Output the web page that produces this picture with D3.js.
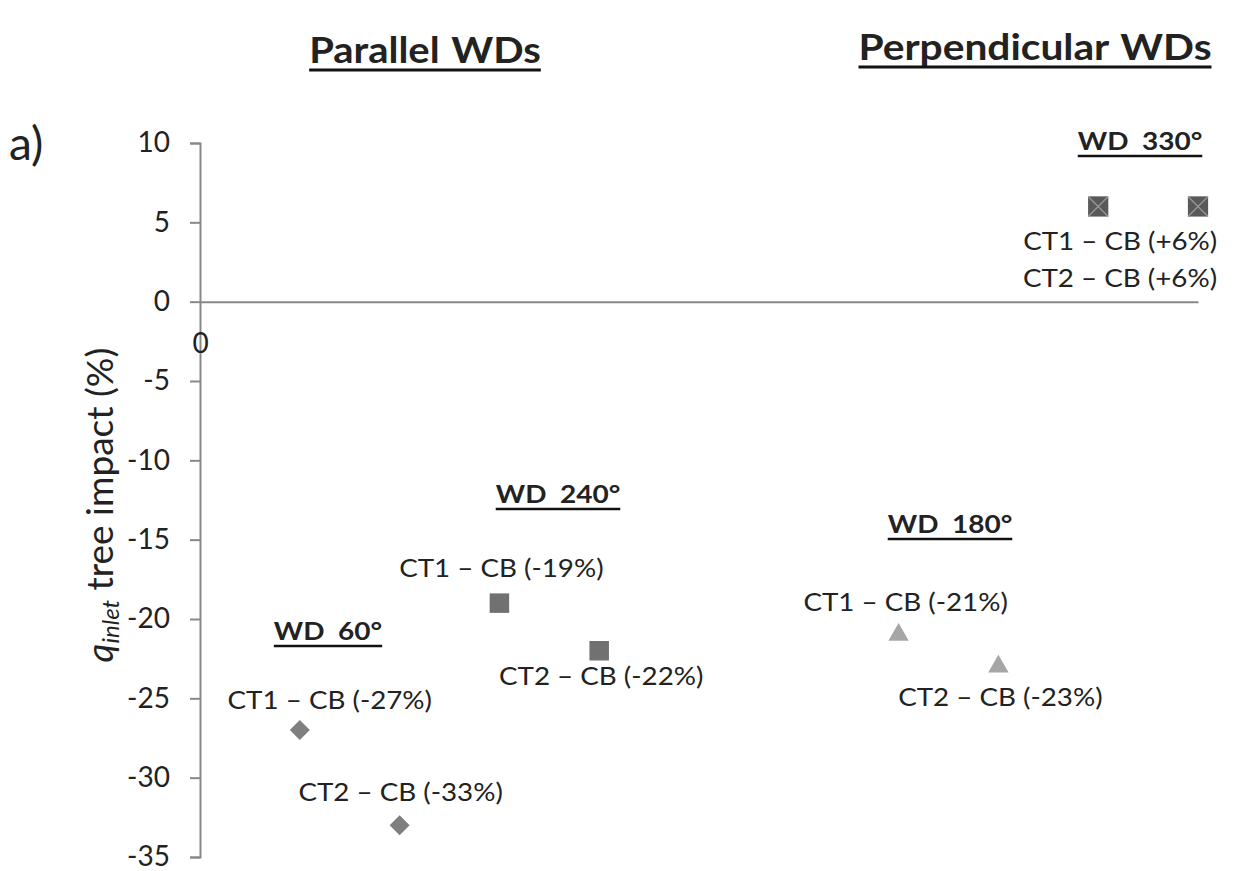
<!DOCTYPE html>
<html>
<head>
<meta charset="utf-8">
<script src="https://cdn.jsdelivr.net/npm/d3@7"></script>
<style>
  body { margin: 0; background: #fff; }
  text { font-family: Lato, "Open Sans", sans-serif; fill: #222; }
</style>
</head>
<body>
<div id="chart"></div>
<script>
// wind directions and CT - CB differences (%)
const groups = ["WD 60°", "WD 240°", "WD 180°", "WD 330°"]
const ct1 = [-27, -19, -21, 6]
const ct2 = [-33, -22, -23, 6]
const xCt1 = [1, 3, 7, 9]
const xCt2 = [2, 4, 8, 10]
const yTicks = [10, 5, 0, -5, -10, -15, -20, -25, -30, -35]
const sections = ["Parallel WDs", "Perpendicular WDs"]

const W = 1244, H = 871

const svg = d3.select("#chart").append("svg")
  .attr("width", W).attr("height", H)

const x = d3.scaleLinear().domain([0, 10]).range([200, 1198])
const y = d3.scaleLinear().domain([-35, 10]).range([857, 143])

const axisColor = "#888"

// y axis
const yAxis = svg.append("g")
  .attr("transform", `translate(${x(0)},0)`)
  .call(d3.axisLeft(y).tickValues(yTicks).tickSize(10).tickPadding(20).tickFormat(d => String(d)))
yAxis.select(".domain").attr("stroke", axisColor).attr("stroke-width", 2)
yAxis.selectAll(".tick line").attr("stroke", axisColor).attr("stroke-width", 2)
yAxis.selectAll(".tick text").attr("font-size", 28).attr("font-family", "Lato").attr("fill", "#222")

// x axis (through zero)
const xAxis = svg.append("g")
  .attr("transform", `translate(0,${y(0)})`)
  .call(d3.axisBottom(x).tickValues([0]).tickSize(0).tickPadding(31).tickSizeOuter(0))
xAxis.select(".domain").attr("stroke", axisColor).attr("stroke-width", 2)
xAxis.selectAll(".tick text").attr("font-size", 28).attr("font-family", "Lato").attr("fill", "#222")

// y axis title
const yt = svg.append("text")
  .attr("transform", `translate(113,505) rotate(-90)`)
  .attr("text-anchor", "middle")
  .attr("font-size", 37)
yt.append("tspan").attr("font-style", "italic").text("q")
yt.append("tspan").attr("font-style", "italic").attr("font-size", 24).attr("dy", 6).text("inlet")
yt.append("tspan").attr("dy", -6).text(" tree impact (%)")

// panel label
svg.append("text")
  .attr("x", 9).attr("y", 160)
  .attr("font-size", 46).text("a)")

function underlined(txt, cx, base, size, sx, gap, thick, ws) {
  const t = svg.append("text")
    .attr("transform", `translate(${cx},${base}) scale(${sx},1)`)
    .attr("text-anchor", "middle")
    .attr("font-size", size).attr("font-weight", "bold")
    .attr("word-spacing", ws)
    .attr("fill", "#111")
    .text(txt)
  const w = t.node().getComputedTextLength() * sx
  svg.append("line")
    .attr("x1", cx - w / 2).attr("x2", cx + w / 2)
    .attr("y1", base + gap).attr("y2", base + gap)
    .attr("stroke", "#111").attr("stroke-width", thick)
}

// section headers
underlined(sections[0], 425, 63, 37, 1.08, 7, 3, 2)
underlined(sections[1], 1035, 60, 37, 1.1, 7, 3, 2)

// group headers
const headPos = [[328, 640], [558, 503], [950, 533], [1140, 150]]
groups.forEach((g, i) => underlined(g, headPos[i][0], headPos[i][1], 25, 1.12, 6, 2.5, 6))

// markers
const colors = ["#7f7f7f", "#717171", "#a6a6a6", "#595959"]
const shapes = [
  d3.symbol(d3.symbolSquare, 200)(),
  d3.symbol(d3.symbolSquare, 380)(),
  d3.symbol(d3.symbolTriangle, 180)(),
  d3.symbol(d3.symbolSquare, 410)()
]
const rotations = [45, 0, 0, 0]

const points = []
groups.forEach((g, i) => {
  points.push({ g: i, ct: 1, x: xCt1[i], v: ct1[i] })
  points.push({ g: i, ct: 2, x: xCt2[i], v: ct2[i] })
})

const marks = svg.selectAll("g.pt")
  .data(points)
  .enter().append("g")
  .attr("class", "pt")
  .attr("transform", d => `translate(${x(d.x)},${y(d.v)})`)

marks.append("path")
  .attr("d", d => shapes[d.g])
  .attr("transform", d => `rotate(${rotations[d.g]})`)
  .attr("fill", d => colors[d.g])

marks.filter(d => d.g === 3).append("path")
  .attr("d", "M-10,-10L10,10M10,-10L-10,10")
  .attr("stroke", "#9a9a9a").attr("stroke-width", 1.2)

// data labels (offsets from each marker)
const labelOff = {
  "0-1": [30, -21], "0-2": [1, -24],
  "1-1": [2, -26], "1-2": [2, 34],
  "2-1": [7, -24], "2-2": [2, 39],
  "3-1": [22, 44], "3-2": [-78, 81]
}

svg.selectAll("text.lbl")
  .data(points)
  .enter().append("text")
  .attr("class", "lbl")
  .attr("transform", d => {
    const o = labelOff[d.g + "-" + d.ct]
    return `translate(${x(d.x) + o[0]},${y(d.v) + o[1]}) scale(1.11,1)`
  })
  .attr("text-anchor", "middle")
  .attr("font-size", 25)
  .text(d => `CT${d.ct} – CB (${d.v > 0 ? "+" : ""}${d.v}%)`)
</script>
</body>
</html>
